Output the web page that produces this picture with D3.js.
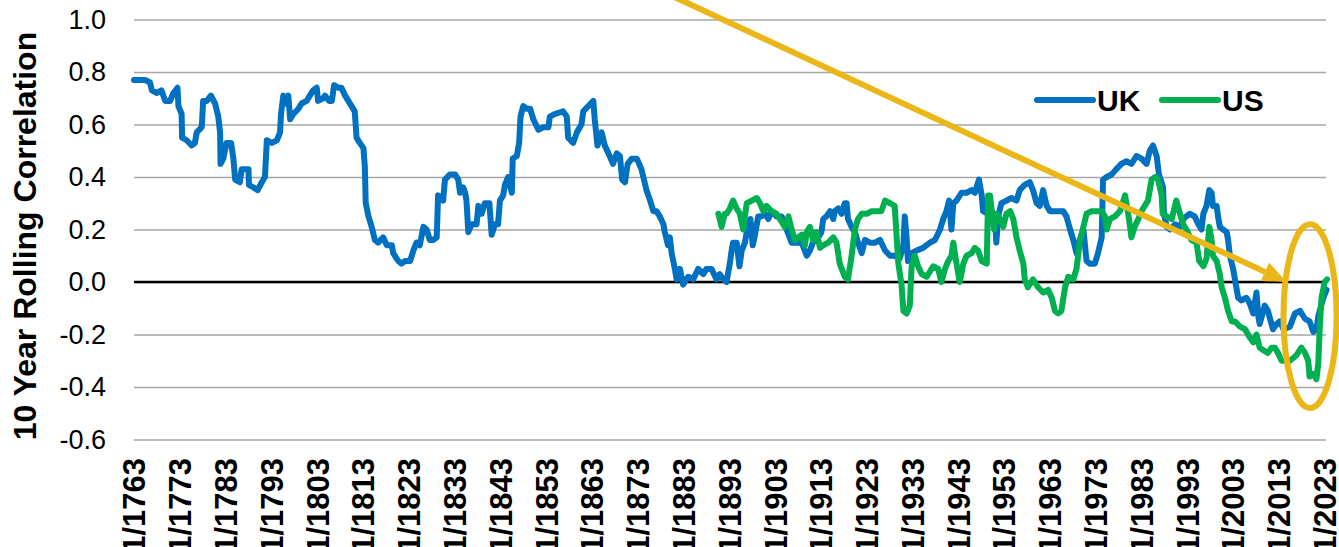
<!DOCTYPE html>
<html>
<head>
<meta charset="utf-8">
<script src="https://cdn.jsdelivr.net/npm/d3@7"></script>
<style>
  body { margin: 0; background: #fff; }
  svg { display: block; font-family: "Liberation Sans", Arial, sans-serif; }
</style>
</head>
<body>
<svg id="mainFrame"></svg>
<script>
// [year, 10y rolling correlation]
const ukData = [
  [1763.0,0.77],[1765.4,0.77],[1766.5,0.76],[1766.9,0.73],[1768.0,0.72],[1769.0,0.73],[1769.8,0.69],[1770.9,0.69],
  [1771.6,0.72],[1772.5,0.74],[1772.7,0.67],[1773.4,0.64],[1773.5,0.55],[1774.5,0.54],[1775.6,0.52],[1776.3,0.53],
  [1776.7,0.57],[1777.8,0.59],[1778.1,0.69],[1778.9,0.69],[1779.8,0.71],[1780.7,0.68],[1781.4,0.63],[1781.8,0.57],
  [1781.9,0.45],[1782.5,0.47],[1783.2,0.53],[1784.2,0.53],[1784.7,0.47],[1785.1,0.39],[1786.1,0.38],[1786.5,0.43],
  [1788.0,0.43],[1788.1,0.37],[1789.1,0.36],[1790.0,0.35],[1790.9,0.38],[1791.6,0.40],[1792.0,0.54],[1793.1,0.53],
  [1794.2,0.54],[1794.9,0.57],[1795.1,0.64],[1795.6,0.71],[1796.3,0.68],[1796.7,0.71],[1797.1,0.62],[1797.8,0.64],
  [1798.9,0.66],[1799.6,0.68],[1800.7,0.69],[1801.4,0.71],[1802.1,0.73],[1802.9,0.74],[1803.2,0.69],[1804.3,0.70],
  [1804.7,0.71],[1805.6,0.69],[1806.2,0.69],[1806.7,0.75],[1807.6,0.74],[1808.3,0.74],[1809.1,0.71],[1809.8,0.69],
  [1810.5,0.67],[1811.2,0.65],[1811.6,0.55],[1812.3,0.53],[1813.1,0.51],[1813.4,0.44],[1813.6,0.30],[1814.2,0.25],
  [1814.9,0.21],[1815.6,0.16],[1816.3,0.15],[1817.4,0.17],[1818.2,0.14],[1819.3,0.14],[1819.6,0.11],[1820.7,0.08],
  [1821.4,0.07],[1822.2,0.08],[1823.3,0.08],[1824.0,0.12],[1824.7,0.15],[1825.4,0.14],[1826.2,0.21],[1826.9,0.20],
  [1827.6,0.16],[1828.3,0.16],[1829.1,0.17],[1829.4,0.33],[1830.5,0.31],[1830.9,0.39],[1832.0,0.41],[1833.1,0.41],
  [1833.8,0.39],[1834.2,0.34],[1834.9,0.36],[1835.3,0.34],[1835.6,0.31],[1836.0,0.19],[1836.7,0.22],[1837.8,0.22],
  [1838.2,0.29],[1838.9,0.26],[1839.6,0.30],[1840.6,0.30],[1841.1,0.18],[1841.8,0.22],[1842.5,0.22],[1842.9,0.31],
  [1843.6,0.33],[1844.0,0.37],[1844.7,0.40],[1845.5,0.34],[1845.7,0.47],[1846.6,0.48],[1847.1,0.53],[1847.4,0.63],
  [1848.0,0.67],[1848.7,0.66],[1849.5,0.66],[1850.2,0.62],[1851.3,0.58],[1852.4,0.59],[1853.5,0.59],[1853.8,0.63],
  [1854.9,0.64],[1856.7,0.65],[1857.5,0.63],[1857.8,0.55],[1858.9,0.53],[1859.7,0.57],[1860.7,0.60],[1861.1,0.65],
  [1862.2,0.67],[1863.3,0.69],[1863.6,0.62],[1864.2,0.52],[1865.1,0.57],[1865.8,0.52],[1866.6,0.49],[1867.6,0.45],
  [1868.4,0.49],[1869.1,0.48],[1869.6,0.39],[1870.2,0.38],[1870.8,0.45],[1871.7,0.47],[1872.8,0.47],[1873.8,0.43],
  [1874.9,0.35],[1875.7,0.31],[1876.4,0.27],[1877.1,0.27],[1877.8,0.25],[1878.6,0.22],[1878.9,0.19],[1879.6,0.14],
  [1880.0,0.17],[1880.4,0.11],[1881.1,0.05],[1881.5,0.01],[1882.2,0.05],[1882.9,-0.01],[1884.0,0.02],[1885.1,0.01],
  [1886.2,0.05],[1887.3,0.03],[1888.0,0.05],[1889.1,0.05],[1890.2,0.01],[1890.9,0.03],[1891.7,0.01],[1892.4,0.00],
  [1893.1,0.07],[1893.5,0.12],[1893.8,0.15],[1894.6,0.15],[1895.2,0.06],[1895.7,0.12],[1896.4,0.15],[1897.1,0.22],
  [1897.6,0.24],[1898.1,0.14],[1898.6,0.18],[1899.3,0.25],[1900.0,0.25],[1900.8,0.26],[1901.5,0.24],[1902.2,0.27],
  [1903.3,0.25],[1904.4,0.25],[1905.5,0.20],[1906.6,0.15],[1907.7,0.15],[1908.8,0.15],[1909.9,0.10],[1910.6,0.12],
  [1911.7,0.17],[1912.4,0.17],[1913.1,0.19],[1913.5,0.24],[1914.2,0.25],[1915.0,0.27],[1915.7,0.24],[1916.0,0.27],
  [1916.8,0.28],[1917.5,0.26],[1918.2,0.30],[1918.6,0.30],[1918.9,0.24],[1919.7,0.21],[1920.4,0.19],[1921.1,0.15],
  [1921.9,0.11],[1922.6,0.16],[1923.7,0.15],[1924.8,0.15],[1925.9,0.16],[1927.0,0.12],[1928.1,0.10],[1929.1,0.10],
  [1930.2,0.09],[1931.0,0.14],[1931.3,0.25],[1931.7,0.17],[1932.0,0.08],[1932.8,0.11],[1933.9,0.12],[1935.3,0.13],
  [1936.8,0.15],[1937.9,0.16],[1939.0,0.20],[1939.7,0.24],[1940.4,0.27],[1941.0,0.31],[1941.5,0.20],[1941.9,0.30],
  [1942.6,0.31],[1943.7,0.34],[1944.8,0.34],[1945.9,0.35],[1946.6,0.34],[1947.5,0.39],[1948.1,0.33],[1948.4,0.27],
  [1949.5,0.26],[1950.3,0.27],[1951.0,0.24],[1951.3,0.15],[1951.7,0.25],[1952.4,0.30],[1953.5,0.31],[1954.6,0.32],
  [1955.7,0.31],[1956.4,0.35],[1957.5,0.37],[1958.6,0.38],[1959.3,0.35],[1960.1,0.30],[1960.8,0.29],[1961.5,0.35],
  [1962.3,0.29],[1963.0,0.27],[1964.4,0.27],[1965.9,0.27],[1966.6,0.25],[1967.4,0.20],[1968.1,0.16],[1968.8,0.11],
  [1969.5,0.16],[1970.3,0.20],[1971.0,0.08],[1971.7,0.07],[1972.8,0.07],[1973.5,0.11],[1974.3,0.17],[1974.6,0.39],
  [1975.4,0.40],[1976.5,0.41],[1977.5,0.43],[1978.6,0.45],[1979.7,0.46],[1980.8,0.45],[1981.9,0.48],[1983.0,0.47],
  [1984.1,0.45],[1984.8,0.50],[1985.5,0.52],[1986.3,0.48],[1986.8,0.41],[1987.7,0.36],[1987.9,0.26],[1988.5,0.21],
  [1989.2,0.20],[1990.3,0.22],[1991.4,0.21],[1992.1,0.24],[1992.8,0.25],[1993.5,0.26],[1994.6,0.25],[1995.4,0.22],
  [1996.1,0.20],[1996.5,0.26],[1997.2,0.29],[1997.8,0.35],[1998.3,0.34],[1998.6,0.29],[1999.4,0.29],[1999.7,0.25],
  [2000.1,0.21],[2000.8,0.20],[2001.6,0.19],[2001.9,0.16],[2002.3,0.10],[2003.0,0.05],[2003.7,-0.02],[2004.1,-0.06],
  [2004.8,-0.07],[2005.9,-0.06],[2006.6,-0.08],[2007.4,-0.12],[2008.1,-0.04],[2008.5,-0.13],[2008.8,-0.16],[2009.9,-0.09],
  [2010.6,-0.11],[2011.7,-0.18],[2012.5,-0.16],[2013.2,-0.15],[2014.0,-0.18],[2015.4,-0.17],[2016.5,-0.12],[2017.6,-0.11],
  [2018.7,-0.14],[2019.7,-0.15],[2020.5,-0.19],[2021.2,-0.18],[2021.6,-0.13],[2022.7,-0.06],[2023.4,-0.03]
];

const usData = [
  [1890.6,0.26],[1891.3,0.21],[1892.0,0.26],[1892.4,0.26],[1893.1,0.28],[1893.8,0.31],[1894.6,0.28],[1895.3,0.26],
  [1896.0,0.20],[1896.8,0.30],[1897.9,0.31],[1899.0,0.32],[1899.7,0.30],[1900.4,0.27],[1901.1,0.29],[1902.2,0.27],
  [1903.3,0.26],[1904.4,0.23],[1905.1,0.21],[1905.9,0.25],[1906.6,0.20],[1907.3,0.16],[1908.0,0.17],[1908.8,0.18],
  [1909.5,0.14],[1909.9,0.19],[1910.6,0.21],[1911.3,0.16],[1912.0,0.19],[1912.8,0.13],[1913.5,0.14],[1914.6,0.15],
  [1915.7,0.17],[1916.4,0.15],[1917.1,0.07],[1918.2,0.02],[1918.9,0.01],[1919.7,0.10],[1920.4,0.20],[1921.1,0.24],
  [1921.9,0.26],[1923.0,0.26],[1924.1,0.27],[1925.1,0.27],[1926.2,0.27],[1927.0,0.31],[1928.1,0.30],[1929.1,0.29],
  [1929.9,0.07],[1930.6,-0.01],[1931.0,-0.11],[1931.7,-0.12],[1932.4,-0.09],[1932.8,0.06],[1933.5,0.10],[1934.2,0.06],
  [1935.0,0.03],[1936.1,0.02],[1937.5,0.06],[1938.6,0.05],[1939.3,0.00],[1940.1,0.05],[1940.8,0.08],[1941.5,0.10],
  [1941.9,0.15],[1942.6,0.07],[1943.3,0.00],[1944.1,0.07],[1944.8,0.10],[1945.9,0.11],[1946.6,0.13],[1947.3,0.12],
  [1948.1,0.08],[1949.2,0.07],[1949.5,0.33],[1949.9,0.33],[1950.3,0.27],[1950.8,0.20],[1951.3,0.26],[1952.1,0.24],
  [1952.8,0.21],[1953.5,0.26],[1954.3,0.27],[1955.0,0.24],[1955.7,0.17],[1956.4,0.12],[1957.2,0.07],[1957.5,0.01],
  [1958.2,-0.02],[1959.3,0.01],[1960.4,-0.02],[1961.5,-0.04],[1962.6,-0.03],[1963.4,-0.06],[1964.1,-0.11],[1964.8,-0.12],
  [1965.5,-0.11],[1966.3,-0.02],[1967.0,0.02],[1968.1,0.01],[1968.8,0.05],[1969.5,0.15],[1970.3,0.21],[1971.0,0.26],
  [1972.1,0.27],[1973.2,0.27],[1974.3,0.27],[1975.0,0.25],[1975.4,0.20],[1976.1,0.24],[1977.2,0.25],[1978.3,0.27],
  [1979.4,0.33],[1980.1,0.26],[1980.8,0.17],[1981.5,0.21],[1982.3,0.24],[1983.0,0.27],[1983.7,0.29],[1984.4,0.31],
  [1985.2,0.39],[1985.9,0.40],[1986.6,0.39],[1987.4,0.33],[1987.6,0.26],[1988.5,0.25],[1989.6,0.24],[1990.3,0.29],
  [1990.6,0.31],[1991.4,0.26],[1992.1,0.22],[1992.8,0.20],[1993.9,0.16],[1995.0,0.15],[1995.6,0.08],[1996.5,0.06],
  [1997.2,0.09],[1997.8,0.21],[1998.3,0.16],[1998.6,0.10],[1999.4,0.08],[2000.1,0.03],[2000.5,-0.02],[2001.2,-0.06],
  [2001.9,-0.11],[2002.7,-0.15],[2003.4,-0.15],[2004.5,-0.17],[2005.6,-0.18],[2006.6,-0.21],[2007.4,-0.23],[2008.1,-0.20],
  [2008.8,-0.25],[2009.6,-0.26],[2010.6,-0.27],[2011.4,-0.25],[2012.1,-0.25],[2012.8,-0.27],[2013.6,-0.30],[2015.4,-0.30],
  [2016.8,-0.28],[2017.9,-0.25],[2018.7,-0.27],[2019.4,-0.30],[2019.7,-0.36],[2020.5,-0.35],[2021.2,-0.37],[2021.6,-0.31],
  [2021.9,-0.18],[2022.3,-0.06],[2023.0,0.00],[2023.5,0.01]
];

const seriesNames = ['UK', 'US'];
const seriesColors = ['#0070C0', '#00B050'];
const yTicks = [-0.6, -0.4, -0.2, 0.0, 0.2, 0.4, 0.6, 0.8, 1.0];
const xTickYears = [1763, 1773, 1783, 1793, 1803, 1813, 1823, 1833, 1843, 1853, 1863, 1873, 1883,
  1893, 1903, 1913, 1923, 1933, 1943, 1953, 1963, 1973, 1983, 1993, 2003, 2013, 2023];
const yTitle = '10 Year Rolling Correlation';

// annotation, in data units
const arrowFrom = [1878, 1.11];
const arrowTo = [2014.7, 0.0];
const ringCenter = [2019.8, -0.13];
const ringRadius = [5.8, 0.35];

const width = 1339;
const height = 547;
const gold = '#EAB618';

const svg = d3.select('#mainFrame')
    .attr('width', width)
    .attr('height', height);

svg.append('rect')
    .attr('width', width)
    .attr('height', height)
    .attr('fill', '#fff');

const plot = { left: 134, right: 1326, top: 19.5, bottom: 439.5 };

const x = d3.scaleLinear()
    .domain([1763, 2023.5])
    .range([plot.left, 1327]);

const y = d3.scaleLinear()
    .domain([-0.6, 1.0])
    .range([plot.bottom, plot.top]);

// y axis + gridlines
const yAxis = svg.append('g')
    .attr('transform', `translate(${plot.left},0)`)
    .call(d3.axisLeft(y)
        .tickValues(yTicks)
        .tickSize(-(plot.right - plot.left))
        .tickPadding(28)
        .tickFormat(d3.format('.1f')))
yAxis.select('.domain').remove()
yAxis.selectAll('line')
    .attr('stroke', '#A6A6A6')
    .attr('stroke-width', 1.6)
yAxis.selectAll('text')
    .attr('font-size', 27)
    .attr('fill', '#000')
    .attr('font-family', '"Liberation Sans", Arial, sans-serif')
    .text(d => d3.format('.1f')(d).replace('\u2212', '-'))

svg.append('line')
    .attr('x1', plot.left)
    .attr('x2', plot.right)
    .attr('y1', y(0))
    .attr('y2', y(0))
    .attr('stroke', '#000')
    .attr('stroke-width', 2.6)

// x labels, rotated (cut by the bottom edge, as in the original)
const xAxis = svg.append('g')
    .attr('transform', `translate(0,458)`)
    .call(d3.axisBottom(x)
        .tickValues(xTickYears)
        .tickSize(0)
        .tickFormat(d => `1/1/${d}`))
xAxis.select('.domain').remove()
xAxis.selectAll('text')
    .attr('transform', 'rotate(-90)')
    .attr('x', 0)
    .attr('y', 0)
    .attr('dy', '0.35em')
    .attr('text-anchor', 'end')
    .attr('font-size', 31)
    .attr('font-weight', 'bold')
    .attr('fill', '#000')
    .attr('font-family', '"Liberation Sans", Arial, sans-serif')

svg.append('text')
    .attr('transform', 'translate(25,236) rotate(-90)')
    .attr('dy', '0.35em')
    .attr('text-anchor', 'middle')
    .attr('font-size', 32)
    .attr('font-weight', 'bold')
    .text(yTitle)

// series
const line = d3.line()
    .x(d => x(d[0]))
    .y(d => y(d[1]));

[ukData, usData].forEach((data, i) => {
    svg.append('path')
        .datum(data)
        .attr('fill', 'none')
        .attr('stroke', seriesColors[i])
        .attr('stroke-width', 6)
        .attr('stroke-linejoin', 'round')
        .attr('stroke-linecap', 'round')
        .attr('d', line)
})

// legend
const legend = svg.append('g')
    .attr('transform', 'translate(1037,100)')
const entry = legend.selectAll('g')
    .data(seriesNames)
    .join('g')
    .attr('transform', (d, i) => `translate(${i * 125},0)`)
entry.append('line')
    .attr('x1', 0)
    .attr('x2', 56)
    .attr('stroke', (d, i) => seriesColors[i])
    .attr('stroke-width', 6)
    .attr('stroke-linecap', 'round')
entry.append('text')
    .attr('x', 60)
    .attr('dy', '0.36em')
    .attr('font-size', 30)
    .attr('font-weight', 'bold')
    .text(d => d)

// arrow pointing at the recent break + ring round it
const ax0 = x(arrowFrom[0]), ay0 = y(arrowFrom[1]);
const ax1 = x(arrowTo[0]), ay1 = y(arrowTo[1]);
const ang = Math.atan2(ay1 - ay0, ax1 - ax0);
const headLen = 24, headHalf = 10;
const bx = ax1 - headLen * Math.cos(ang), by = ay1 - headLen * Math.sin(ang);

svg.append('line')
    .attr('x1', ax0)
    .attr('y1', ay0)
    .attr('x2', bx)
    .attr('y2', by)
    .attr('stroke', gold)
    .attr('stroke-width', 6)
svg.append('path')
    .attr('d', `M${ax1},${ay1}L${bx - headHalf * Math.sin(ang)},${by + headHalf * Math.cos(ang)}L${bx + headHalf * Math.sin(ang)},${by - headHalf * Math.cos(ang)}Z`)
    .attr('fill', gold)

svg.append('ellipse')
    .attr('cx', x(ringCenter[0]))
    .attr('cy', y(ringCenter[1]))
    .attr('rx', x(ringCenter[0] + ringRadius[0]) - x(ringCenter[0]))
    .attr('ry', y(ringCenter[1] - ringRadius[1]) - y(ringCenter[1]))
    .attr('fill', 'none')
    .attr('stroke', gold)
    .attr('stroke-width', 6)
</script>
</body>
</html>
